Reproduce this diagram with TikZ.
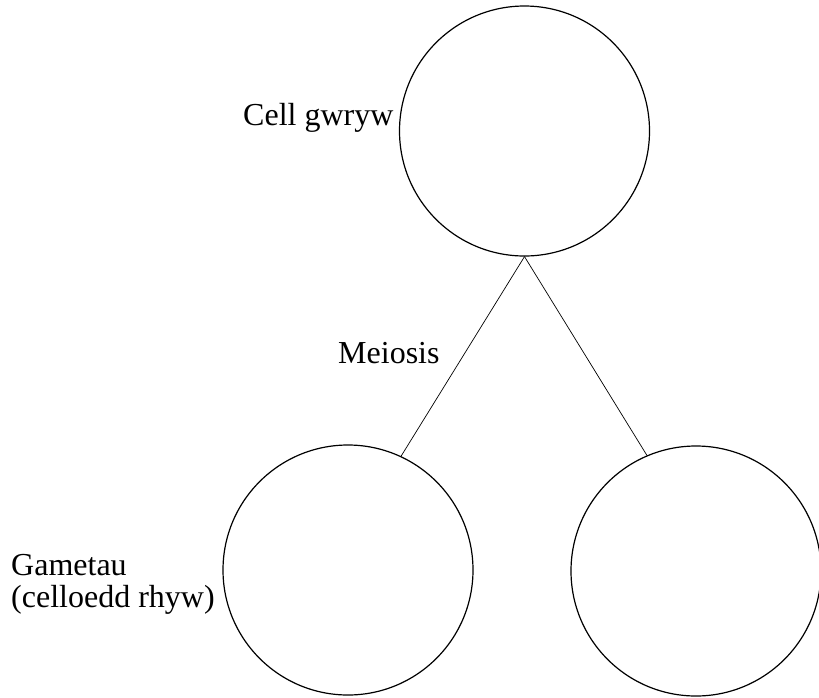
\documentclass[tikz,border=0pt]{standalone}
\usepackage{fontspec}
\setmainfont{Liberation Serif}
\begin{document}
\begin{tikzpicture}[x=1pt,y=-1pt,
  cell/.style={circle,draw,line width=1.2pt,minimum size=250pt,inner sep=0pt},
  link/.style={line width=0.7pt},
  lbl/.style={inner sep=0pt,font=\fontsize{32}{32}\selectfont}]
\useasboundingbox (0,0) rectangle (819,697);
\node[cell] (male) at (524.5,131) {};
\node[cell] (g1) at (348,570) {};
\node[cell] (g2) at (696,571) {};
\draw[link] (male.south) -- (g1.65);
\draw[link] (male.south) -- (g2.113);
\node[lbl,anchor=base west] (tmale) at (243,125) {Cell gwryw};
\node[lbl,anchor=base west] (tmei) at (338,363) {Meiosis};
\node[lbl,anchor=base west,align=left] (tgam) at (11,607) {Gametau\\(celloedd rhyw)};
\end{tikzpicture}
\end{document}
